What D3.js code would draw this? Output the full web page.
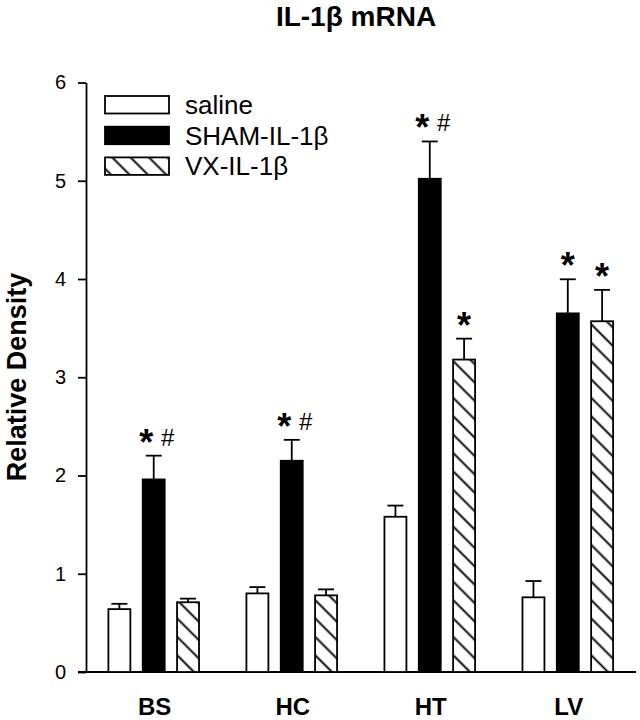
<!DOCTYPE html>
<html>
<head>
<meta charset="utf-8">
<script src="https://cdn.jsdelivr.net/npm/d3@7"></script>
<style>
  html, body { margin: 0; padding: 0; background: #fff; }
  svg { display: block; }
  text { font-family: "Liberation Sans", Arial, sans-serif; fill: #000; }
</style>
</head>
<body>
<svg id="chart" width="640" height="720"></svg>
<script>
// ---- data ----
const categories = ["BS", "HC", "HT", "LV"];
const seriesNames = ["saline", "SHAM-IL-1\u03b2", "VX-IL-1\u03b2"];
const salineValues = [0.64, 0.80, 1.58, 0.76];
const shamValues   = [1.96, 2.15, 5.02, 3.65];
const vxValues     = [0.71, 0.78, 3.18, 3.57];
const salineErrors = [0.054, 0.064, 0.114, 0.166];
const shamErrors   = [0.242, 0.213, 0.380, 0.347];
const vxErrors     = [0.037, 0.061, 0.213, 0.319];
const shamMarks    = ["*#", "*#", "*#", "*"];
const vxMarks      = ["", "", "*", "*"];
const salineMarks  = ["", "", "", ""];
const yTicks = [0, 1, 2, 3, 4, 5, 6];
const titleText = "IL-1\u03b2 mRNA";
const yTitle = "Relative Density";

const values = [salineValues, shamValues, vxValues];
const errors = [salineErrors, shamErrors, vxErrors];
const marks = [salineMarks, shamMarks, vxMarks];
const fills = ["#fff", "#000", "url(#hatch)"];

const svg = d3.select("#chart");

// hatch pattern
const defs = svg.append("defs");
const pat = defs.append("pattern")
  .attr("id", "hatch")
  .attr("patternUnits", "userSpaceOnUse")
  .attr("width", 10).attr("height", 13)
  .attr("patternTransform", "translate(0,2) rotate(45)");
pat.append("rect").attr("width", 10).attr("height", 13).attr("fill", "#fff");
pat.append("line").attr("x1", -1).attr("x2", 11).attr("y1", 6.5).attr("y2", 6.5)
  .attr("stroke", "#000").attr("stroke-width", 1.9);

// scales
const y = d3.scaleLinear().domain([0, 6]).range([672, 82.5]);
const x0 = d3.scaleBand().domain(categories).range([84.7, 636.8]).paddingInner(0).paddingOuter(0);
const bw = x0.bandwidth();
const x1 = d3.scaleBand().domain(seriesNames)
  .range([bw / 2 - 51.5, bw / 2 + 51.5]).paddingInner(0.36).paddingOuter(0.18);

const axisX = 86;

// y axis
const yAxis = svg.append("g")
  .attr("transform", `translate(${axisX},0)`)
  .call(d3.axisLeft(y).tickValues(yTicks).tickSize(8).tickPadding(12).tickSizeOuter(0)
    .tickFormat(d3.format("d")));
yAxis.select(".domain").attr("stroke", "#000").attr("stroke-width", 1.8);
yAxis.selectAll(".tick line").attr("stroke", "#000").attr("stroke-width", 1.8);
yAxis.selectAll(".tick text").attr("font-size", 20).attr("font-family", "Liberation Sans, Arial, sans-serif").attr("fill", "#000");

// x axis line
svg.append("line")
  .attr("x1", axisX - 8).attr("x2", 636)
  .attr("y1", y(0)).attr("y2", y(0))
  .attr("stroke", "#000").attr("stroke-width", 1.8);

// bars
const groups = svg.append("g").selectAll("g")
  .data(categories)
  .join("g")
  .attr("transform", d => `translate(${x0(d)},0)`);

seriesNames.forEach((s, si) => {
  const bx = x1(s);
  const w = x1.bandwidth();
  // error bars
  groups.append("line")
    .attr("x1", bx + w / 2).attr("x2", bx + w / 2)
    .attr("y1", (d, i) => y(values[si][i]))
    .attr("y2", (d, i) => y(values[si][i] + errors[si][i]))
    .attr("stroke", "#000").attr("stroke-width", 1.8);
  groups.append("line")
    .attr("x1", bx + w / 2 - 8).attr("x2", bx + w / 2 + 8)
    .attr("y1", (d, i) => y(values[si][i] + errors[si][i]))
    .attr("y2", (d, i) => y(values[si][i] + errors[si][i]))
    .attr("stroke", "#000").attr("stroke-width", 1.8);
  // bar
  groups.append("rect")
    .attr("x", bx)
    .attr("width", w)
    .attr("y", (d, i) => y(values[si][i]))
    .attr("height", (d, i) => y(0) - y(values[si][i]))
    .attr("fill", fills[si])
    .attr("stroke", "#000").attr("stroke-width", 1.8);
  // significance marks
  groups.each(function(d, i) {
    const m = marks[si][i];
    if (!m) return;
    const g = d3.select(this);
    const cx = bx + w / 2;
    const top = y(values[si][i] + errors[si][i]);
    const hasHash = m.includes("#");
    g.append("text")
      .attr("x", hasHash ? cx - 7.5 : cx)
      .attr("y", top - 1)
      .attr("text-anchor", "middle")
      .attr("font-size", 36).attr("font-weight", "bold")
      .text("*");
    if (hasHash) {
      g.append("text")
        .attr("x", cx + 14)
        .attr("y", top - 10)
        .attr("text-anchor", "middle")
        .attr("font-family", "Liberation Serif, Times New Roman, serif")
        .attr("font-size", 24)
        .text("#");
    }
  });
});

// x category labels
svg.append("g").selectAll("text")
  .data(categories)
  .join("text")
  .attr("x", d => x0(d) + bw / 2 + 1)
  .attr("y", 715)
  .attr("text-anchor", "middle")
  .attr("font-size", 24).attr("font-weight", "bold")
  .text(d => d);

// title
svg.append("text")
  .attr("x", 356).attr("y", 26)
  .attr("text-anchor", "middle")
  .attr("font-size", 28).attr("font-weight", "bold")
  .text(titleText);

// y title
svg.append("text")
  .attr("transform", "translate(26,377) rotate(-90)")
  .attr("text-anchor", "middle")
  .attr("font-size", 27).attr("font-weight", "bold")
  .text(yTitle);

// legend
const legend = svg.append("g").selectAll("g")
  .data(seriesNames)
  .join("g")
  .attr("transform", (d, i) => `translate(105,${96 + i * 30.7})`);
legend.append("rect")
  .attr("width", 64).attr("height", 17.5)
  .attr("fill", (d, i) => fills[i])
  .attr("stroke", "#000").attr("stroke-width", 1.8);
legend.append("text")
  .attr("x", 80).attr("y", 18)
  .attr("font-size", 26)
  .text(d => d);
</script>
</body>
</html>
